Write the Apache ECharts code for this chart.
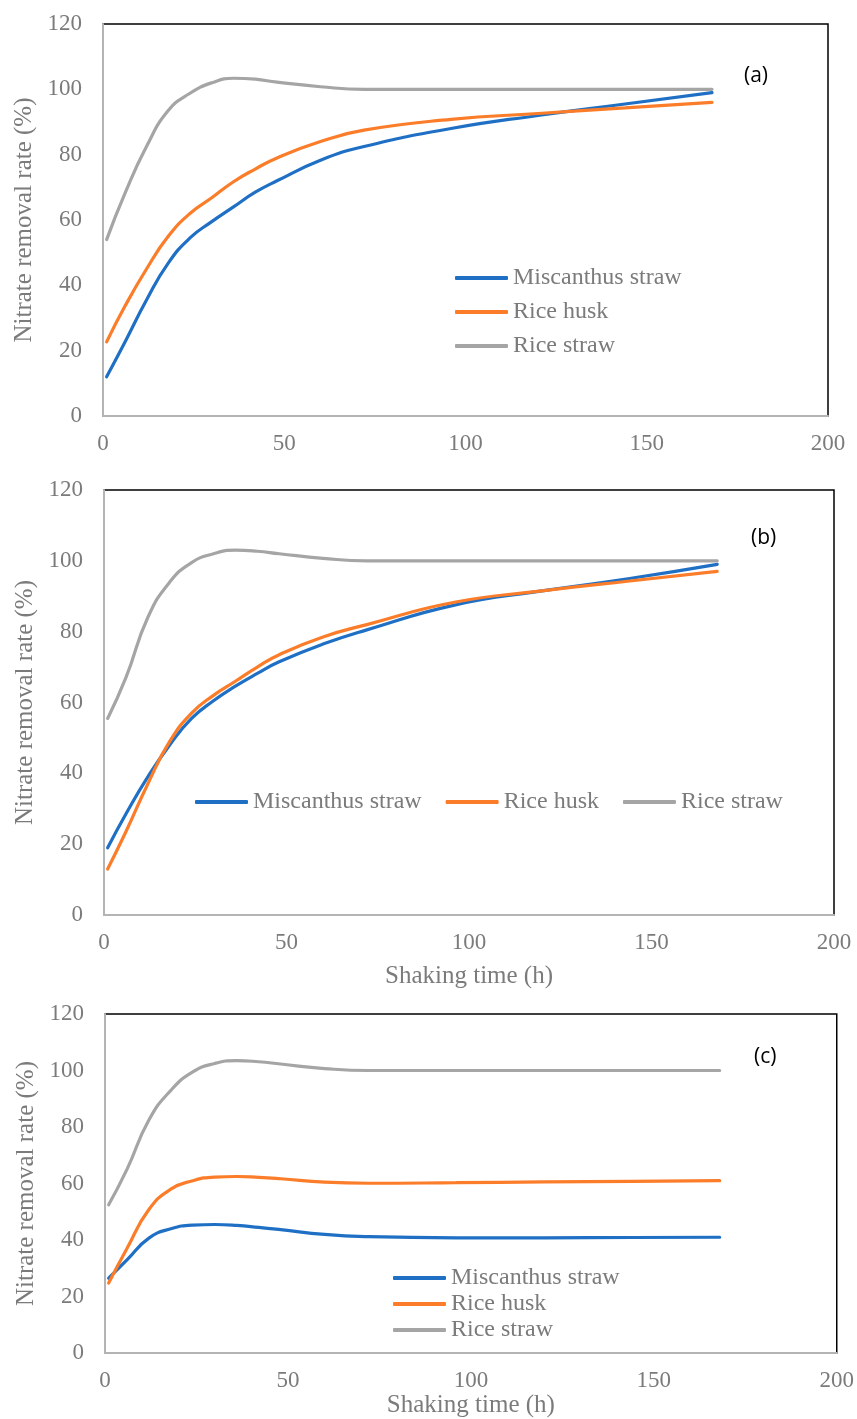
<!DOCTYPE html>
<html>
<head>
<meta charset="utf-8">
<script src="https://cdn.jsdelivr.net/npm/echarts@6/dist/echarts.min.js"></script>
<style>
html,body{margin:0;padding:0;background:#fff;}
#chart{width:857px;height:1419px;}
</style>
</head>
<body>
<div id="chart"></div>
<script>
// Shaking time (h)
const times = [1, 6, 12, 18, 24, 30, 36, 42, 48, 60, 72, 96, 120, 144, 168];
const seriesNames = ['Miscanthus straw', 'Rice husk', 'Rice straw'];
const panelLabels = ['(a)', '(b)', '(c)'];
const xTicks = [0, 50, 100, 150, 200];
const yTicks = [0, 20, 40, 60, 80, 100, 120];

// Panel (a)
const aMiscanthus = [12, 22.5, 35.5, 46.8, 54.5, 59.5, 64, 68.5, 72, 78.3, 82.5, 88, 92, 95.5, 99];
const aRiceHusk   = [22.7, 33.5, 45, 55, 62, 66.8, 71.7, 75.6, 79, 84, 87.5, 90.8, 92.6, 94.3, 96];
const aRiceStraw  = [54, 68, 82.5, 93.5, 98.8, 102, 103.4, 103.1, 102.2, 100.8, 100, 100, 100, 100, 100];
// Panel (b)
const bMiscanthus = [19, 28.5, 39, 48, 55.5, 60.5, 64.6, 68.2, 71.5, 76.5, 80.5, 87.5, 91.5, 95, 99];
const bRiceHusk   = [13, 23.5, 37, 49, 57, 62, 66, 70, 73.5, 78.5, 82, 88.3, 91.5, 94.3, 97];
const bRiceStraw  = [55.5, 67, 84, 94, 99.5, 102, 103, 102.7, 102, 100.7, 100, 100, 100, 100, 100];
// Panel (c)
const cMiscanthus = [26.5, 33, 40.7, 44, 45.3, 45.5, 45.2, 44.5, 43.7, 42, 41.2, 40.8, 40.8, 40.9, 41];
const cRiceHusk   = [24.8, 37, 50.8, 58, 61, 62.3, 62.5, 62.2, 61.7, 60.5, 60.1, 60.3, 60.6, 60.8, 61];
const cRiceStraw  = [52.5, 65, 82.5, 93, 99.5, 102.5, 103.5, 103.1, 102.3, 100.7, 100, 100, 100, 100, 100];

const panels = [
  [aMiscanthus, aRiceHusk, aRiceStraw],
  [bMiscanthus, bRiceHusk, bRiceStraw],
  [cMiscanthus, cRiceHusk, cRiceStraw]
];

const colors = ['#1f70c4', '#fb7d2a', '#a5a5a5'];
const textColor = '#7b7b7b';
const serif = '"Liberation Serif", "DejaVu Serif", serif';

const grids = [
  {left: 103, top: 24, width: 725, height: 392},
  {left: 104, top: 490, width: 730, height: 425},
  {left: 105, top: 1014, width: 734, height: 348}
];
const xNames = ['', 'Shaking time (h)', 'Shaking time (h)'];
const xNameGaps = [40, 49, 38];

const option = {
  animation: false,
  backgroundColor: '#fff',
  color: colors,
  title: [
    {text: panelLabels[0], left: 739, top: 61},
    {text: panelLabels[1], left: 746, top: 523},
    {text: panelLabels[2], left: 749, top: 1042}
  ].map(t => Object.assign(t, {textStyle: {fontFamily: '"Open Sans", "Noto Sans", sans-serif', fontWeight: 'normal', fontSize: 21, color: '#000'}})),
  grid: grids.map(g => Object.assign({show: true, borderColor: '#000', borderWidth: 1.5, backgroundColor: 'transparent'}, g)),
  legend: [
    {left: 455, top: 266, orient: 'vertical', itemGap: 10},
    {left: 195, top: 790, orient: 'horizontal', itemGap: 24},
    {left: 393, top: 1266, orient: 'vertical', itemGap: 2}
  ].map(l => Object.assign(l, {
    data: seriesNames,
    icon: 'roundRect',
    itemWidth: 53,
    itemHeight: 4,
    padding: 0,
    selectedMode: false,
    textStyle: {fontFamily: serif, fontSize: 24, color: textColor, padding: [0, 0, 0, 0]}
  })),
  xAxis: grids.map((g, i) => ({
    type: 'value',
    gridIndex: i,
    min: xTicks[0],
    max: xTicks[xTicks.length - 1],
    interval: 50,
    name: xNames[i],
    nameLocation: 'middle',
    nameGap: xNameGaps[i],
    nameTextStyle: {fontFamily: serif, fontSize: 25, color: textColor},
    axisLine: {show: true, lineStyle: {color: '#b4b4b4', width: 2}},
    axisTick: {show: false},
    splitLine: {show: false},
    axisLabel: {fontFamily: serif, fontSize: 23, color: textColor, margin: 16}
  })),
  yAxis: grids.map((g, i) => ({
    type: 'value',
    gridIndex: i,
    min: yTicks[0],
    max: yTicks[yTicks.length - 1],
    interval: 20,
    name: 'Nitrate removal rate (%)',
    nameLocation: 'middle',
    nameGap: 60,
    nameTextStyle: {fontFamily: serif, fontSize: 25, color: textColor},
    axisLine: {show: true, lineStyle: {color: '#b4b4b4', width: 2}},
    axisTick: {show: false},
    splitLine: {show: false},
    axisLabel: {fontFamily: serif, fontSize: 23, color: textColor, margin: 21}
  })),
  series: []
};

panels.forEach((p, pi) => {
  p.forEach((vals, si) => {
    option.series.push({
      type: 'line',
      name: seriesNames[si],
      xAxisIndex: pi,
      yAxisIndex: pi,
      data: times.map((t, k) => [t, vals[k]]),
      smooth: 0.5,
      showSymbol: false,
      symbol: 'none',
      lineStyle: {width: 3.2, color: colors[si], cap: 'round'},
      itemStyle: {color: colors[si]}
    });
  });
});

const chart = echarts.init(document.getElementById('chart'), null, {renderer: 'canvas'});
chart.setOption(option);
</script>
</body>
</html>
